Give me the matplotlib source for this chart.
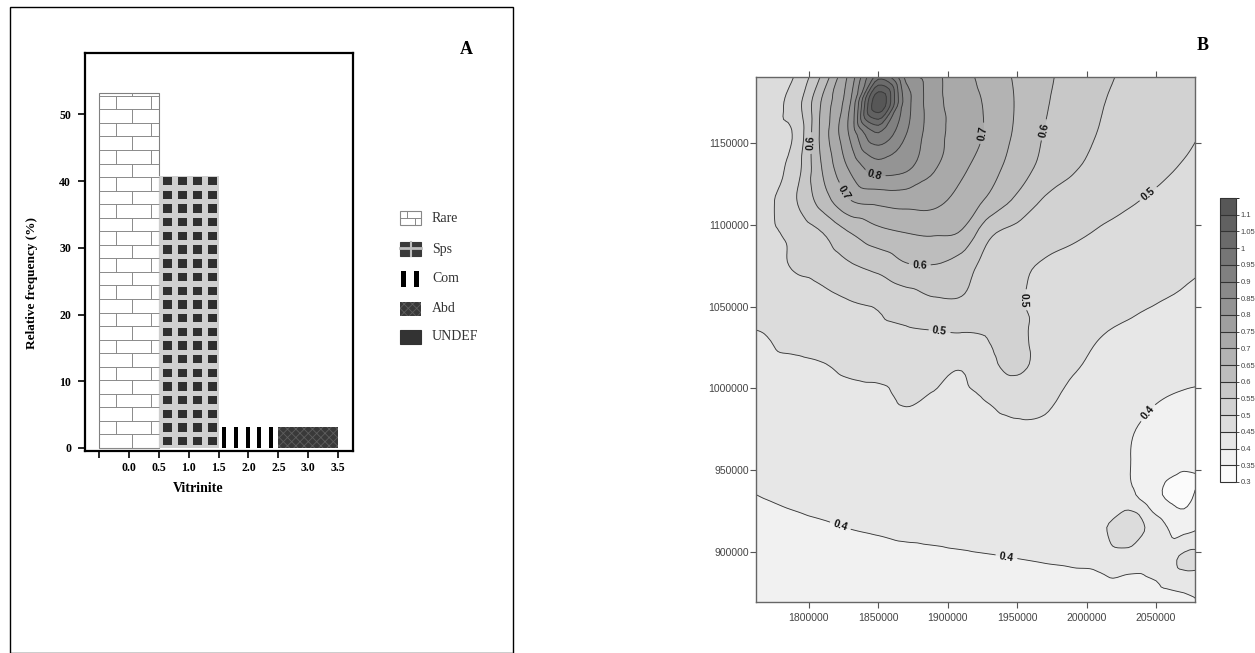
import numpy as np
import matplotlib
matplotlib.use("Agg")
import matplotlib.pyplot as plt
import matplotlib.tri as mtri
import matplotlib.ticker as mticker
from matplotlib.colors import ListedColormap, BoundaryNorm
from matplotlib.patches import Rectangle
from matplotlib.collections import LineCollection, PatchCollection
from matplotlib.cm import ScalarMappable

plt.rcParams['hatch.linewidth'] = 0.6

SERIF = ['Liberation Serif', 'DejaVu Serif']
SANS = ['Liberation Sans', 'DejaVu Sans']

# ---- panel A: vitrinite abundance classes ----
classes = ['Rare', 'Sps', 'Com', 'Abd', 'UNDEF']
bin_left = [-0.5, 0.5, 1.5, 2.5, 3.5]
rel_freq = [53.2, 40.7, 3.2, 3.2, 0.0]
a_xticks = [-0.5, 0.0, 0.5, 1.0, 1.5, 2.0, 2.5, 3.0, 3.5]
a_xticklabels = ['', '0.0', '0.5', '1.0', '1.5', '2.0', '2.5', '3.0', '3.5']
a_yticks = [0, 10, 20, 30, 40, 50]

# ---- panel B: gridded vitrinite map ----
easting = np.arange(1750000, 2090001, 20000)     # 18 columns
northing = np.arange(1195000, 854999, -20000)    # 18 rows, top to bottom
vr_grid = np.array([
    [0.46, 0.478, 0.497, 0.60, 0.76, 0.93, 0.81, 0.765, 0.715, 0.678, 0.64, 0.61, 0.585, 0.56, 0.545, 0.532, 0.522, 0.512],
    [0.46, 0.48, 0.525, 0.66, 0.80, 1.14, 0.875, 0.77, 0.725, 0.69, 0.645, 0.605, 0.58, 0.553, 0.54, 0.527, 0.515, 0.505],
    [0.46, 0.48, 0.508, 0.67, 0.81, 0.94, 0.85, 0.77, 0.727, 0.69, 0.64, 0.597, 0.57, 0.547, 0.535, 0.52, 0.507, 0.495],
    [0.46, 0.48, 0.525, 0.655, 0.76, 0.825, 0.81, 0.755, 0.71, 0.67, 0.625, 0.585, 0.555, 0.537, 0.52, 0.51, 0.497, 0.49],
    [0.46, 0.488, 0.545, 0.625, 0.70, 0.715, 0.72, 0.715, 0.68, 0.64, 0.59, 0.545, 0.53, 0.515, 0.505, 0.493, 0.48, 0.475],
    [0.46, 0.488, 0.515, 0.55, 0.60, 0.635, 0.65, 0.655, 0.645, 0.56, 0.535, 0.52, 0.508, 0.496, 0.485, 0.475, 0.465, 0.46],
    [0.457, 0.48, 0.505, 0.52, 0.545, 0.565, 0.595, 0.598, 0.575, 0.53, 0.51, 0.495, 0.485, 0.478, 0.47, 0.462, 0.455, 0.45],
    [0.455, 0.465, 0.478, 0.49, 0.502, 0.51, 0.53, 0.548, 0.548, 0.52, 0.505, 0.48, 0.47, 0.465, 0.46, 0.452, 0.447, 0.44],
    [0.448, 0.452, 0.47, 0.478, 0.485, 0.49, 0.495, 0.499, 0.502, 0.505, 0.515, 0.47, 0.46, 0.452, 0.445, 0.44, 0.435, 0.43],
    [0.435, 0.44, 0.443, 0.449, 0.46, 0.465, 0.47, 0.47, 0.455, 0.49, 0.515, 0.475, 0.455, 0.443, 0.435, 0.428, 0.42, 0.415],
    [0.425, 0.428, 0.43, 0.435, 0.44, 0.442, 0.455, 0.447, 0.44, 0.455, 0.465, 0.46, 0.44, 0.435, 0.425, 0.405, 0.395, 0.39],
    [0.42, 0.422, 0.425, 0.428, 0.432, 0.435, 0.44, 0.437, 0.435, 0.44, 0.445, 0.443, 0.43, 0.415, 0.405, 0.385, 0.375, 0.38],
    [0.41, 0.413, 0.418, 0.42, 0.425, 0.43, 0.432, 0.432, 0.432, 0.433, 0.435, 0.435, 0.425, 0.415, 0.402, 0.372, 0.36, 0.375],
    [0.397, 0.402, 0.407, 0.412, 0.417, 0.422, 0.425, 0.427, 0.428, 0.43, 0.432, 0.433, 0.43, 0.425, 0.41, 0.36, 0.33, 0.41],
    [0.385, 0.388, 0.392, 0.396, 0.401, 0.405, 0.41, 0.412, 0.415, 0.418, 0.42, 0.423, 0.428, 0.44, 0.49, 0.42, 0.385, 0.41],
    [0.37, 0.372, 0.375, 0.378, 0.381, 0.384, 0.387, 0.39, 0.393, 0.396, 0.399, 0.402, 0.405, 0.41, 0.42, 0.415, 0.46, 0.465],
    [0.355, 0.357, 0.36, 0.362, 0.365, 0.367, 0.37, 0.372, 0.375, 0.378, 0.38, 0.383, 0.385, 0.388, 0.38, 0.39, 0.40, 0.41],
    [0.352, 0.353, 0.355, 0.357, 0.358, 0.36, 0.362, 0.364, 0.366, 0.368, 0.37, 0.372, 0.374, 0.376, 0.378, 0.382, 0.39, 0.395],
])
levels = np.round(np.arange(0.30, 1.151, 0.05), 2)
labelled_levels = [0.4, 0.5, 0.6, 0.7, 0.8]
b_xticks = [1800000, 1850000, 1900000, 1950000, 2000000, 2050000]
b_yticks = [900000, 950000, 1000000, 1050000, 1100000, 1150000]

# where the contour labels sit (easting, northing)
label_pos = [(1800700, 1150000), (1847500, 1131700), (1828000, 1121300),
             (1923000, 1156100), (1969000, 1158000), (1879900, 1076700),
             (1894200, 1035700), (1950400, 1054000), (2043200, 1120000),
             (1822300, 915300), (1942500, 898200), (2043200, 985600)]

W, H = 1255, 653
fig = plt.figure(figsize=(W / 100, H / 100), dpi=100)
fig.patch.set_facecolor('white')

# frame around panel A
fig.add_artist(Rectangle((10 / W, 0), 503 / W, 1 - 7 / H, transform=fig.transFigure,
                         fill=False, ec='black', lw=1.0))


def decorate(ax, bar, kind):
    x0, w, h = bar.get_x(), bar.get_width(), bar.get_height()
    if kind == 'Rare':
        row, brick = 2.03, 0.59
        segs = []
        for k, yb in enumerate(np.arange(0, h, row)):
            yt = min(yb + row, h)
            segs.append([(x0, yb), (x0 + w, yb)])
            start = 0.55 if k % 2 == 0 else 0.28
            for xv in np.arange(start, w, brick):
                segs.append([(x0 + xv, yb), (x0 + xv, yt)])
        ax.add_collection(LineCollection(segs, colors='#8a8a8a', linewidths=0.7))
    elif kind == 'Sps':
        rects = []
        for yb in np.arange(0.4, h - 0.3, 2.05):
            for xv in np.arange(0.072, w, 0.2525):
                rects.append(Rectangle((x0 + xv, yb), 0.14, min(1.25, h - yb)))
        ax.add_collection(PatchCollection(rects, facecolor='#2f2f2f', edgecolor='none'))
    elif kind == 'Com':
        rects = [Rectangle((x0 + xv, 0), 0.067, h) for xv in np.arange(0.062, w, 0.196)]
        ax.add_collection(PatchCollection(rects, facecolor='black', edgecolor='none'))


bar_style = {
    'Rare': dict(facecolor='white', edgecolor='#808080', linewidth=0.8),
    'Sps': dict(facecolor='#cfcfcf', edgecolor='#cfcfcf', linewidth=0),
    'Com': dict(facecolor='white', edgecolor='white', linewidth=0),
    'Abd': dict(facecolor='#393939', edgecolor='#5e5e5e', hatch='xxxx', linewidth=0),
}

axa = fig.add_axes([85 / W, 1 - 451 / H, 268 / W, 398 / H])
for cls, left, h in zip(classes, bin_left, rel_freq):
    if h <= 0:
        continue
    bar = axa.bar(left, h, width=1.0, align='edge', **bar_style[cls])[0]
    decorate(axa, bar, cls)

axa.set_xlim(-0.736, 3.75)
axa.set_ylim(-0.45, 59.2)
axa.set_xticks(a_xticks)
axa.set_xticklabels(a_xticklabels)
axa.set_yticks(a_yticks)
for s in axa.spines.values():
    s.set_linewidth(1.6)
axa.tick_params(axis='both', direction='out', length=5, width=1.2, labelsize=8.5)
axa.tick_params(axis='x', pad=3)
axa.tick_params(axis='y', pad=5)
for lab in axa.get_xticklabels() + axa.get_yticklabels():
    lab.set_fontfamily(SERIF)
    lab.set_fontweight('bold')

fig.text(198 / W, 1 - 489 / H, 'Vitrinite', ha='center', va='center',
         family=SERIF, weight='bold', fontsize=10)
fig.text(32 / W, 1 - 283 / H, 'Relative frequency (%)', ha='center', va='center',
         rotation=90, family=SERIF, weight='bold', fontsize=9.5)
fig.text(466 / W, 1 - 50 / H, 'A', ha='center', va='center', family=SERIF,
         weight='bold', fontsize=13)

# legend drawn in a small pixel-unit axes
lax = fig.add_axes([395 / W, 1 - 352 / H, 125 / W, 147 / H])
lax.set_xlim(395, 520)
lax.set_ylim(352, 205)
lax.axis('off')
leg_y = [218, 249, 278, 309, 337]
sx, sw, sh = 400, 21, 14
for cls, yc in zip(classes, leg_y):
    top = yc - sh / 2
    if cls == 'Rare':
        lax.add_patch(Rectangle((sx, top), sw, sh, fc='white', ec='#888888', lw=0.8))
        lax.plot([sx, sx + sw], [yc, yc], color='#888888', lw=0.7)
        lax.plot([sx + 7, sx + 7], [top, yc], color='#888888', lw=0.7)
        lax.plot([sx + 15, sx + 15], [yc, top + sh], color='#888888', lw=0.7)
    elif cls == 'Sps':
        lax.add_patch(Rectangle((sx, top), sw, sh, fc='#3a3a3a', ec='#3a3a3a', lw=0.8))
        lax.plot([sx, sx + sw], [yc - 1, yc - 1], color='#bdbdbd', lw=2)
        lax.plot([sx + sw / 2, sx + sw / 2], [top, top + sh], color='#bdbdbd', lw=1.5)
    elif cls == 'Com':
        lax.add_patch(Rectangle((sx, top), sw, sh + 2, fc='white', ec='none'))
        lax.add_patch(Rectangle((sx + 1, top), 5, sh + 2, fc='black', ec='none'))
        lax.add_patch(Rectangle((sx + 14, top), 5, sh + 2, fc='black', ec='none'))
    elif cls == 'Abd':
        lax.add_patch(Rectangle((sx, top), sw, sh, fc='#393939', ec='#5e5e5e',
                                hatch='xxxx', lw=0))
    else:
        lax.add_patch(Rectangle((sx, top), sw, sh, fc='#333333', ec='#333333', lw=0.8))
    lax.text(sx + 32, yc, cls, ha='left', va='center', family=SERIF,
             fontsize=10, color='#333333')

# ---- panel B ----
nx, ny = len(easting), len(northing)
E, N = np.meshgrid(easting, northing)
tris = []
for j in range(ny - 1):
    for i in range(nx - 1):
        p = j * nx + i
        tris.append([p, p + 1, p + nx])
        tris.append([p + 1, p + nx + 1, p + nx])
tri = mtri.Triangulation(E.ravel(), N.ravel(), np.array(tris))
interp = mtri.CubicTriInterpolator(tri, vr_grid.ravel(), kind='geom')
tri_f, z_f = mtri.UniformTriRefiner(tri).refine_field(vr_grid.ravel(), interp, subdiv=3)
z_f = np.clip(z_f, levels[0] + 1e-4, levels[-1] - 1e-4)

ncol = len(levels) - 1
grays = np.linspace(0.985, 0.34, ncol)
cmap = ListedColormap([(g, g, g) for g in grays])
norm = BoundaryNorm(levels, ncol)

axb = fig.add_axes([756 / W, 1 - 602 / H, 439 / W, 525 / H])
axb.tricontourf(tri_f, z_f, levels=levels, cmap=cmap, norm=norm)
plain_levels = [lv for lv in levels[1:-1] if not np.isclose(lv, labelled_levels).any()]
axb.tricontour(tri_f, z_f, levels=plain_levels, colors='#383838', linewidths=0.65)
cs = axb.tricontour(tri_f, z_f, levels=labelled_levels, colors='#383838', linewidths=0.65)
clabs = axb.clabel(cs, manual=label_pos, fmt='%g', fontsize=7.5, inline=True,
                   inline_spacing=2, colors='#111111')
for t in clabs:
    t.set_fontfamily(SANS)
    t.set_fontweight('bold')

axb.set_xlim(1761900, 2078000)
axb.set_ylim(869400, 1190300)
axb.set_xticks(b_xticks)
axb.set_yticks(b_yticks)
axb.xaxis.set_major_formatter(mticker.FormatStrFormatter('%d'))
axb.yaxis.set_major_formatter(mticker.FormatStrFormatter('%d'))
axb.tick_params(direction='out', top=True, right=True, length=4, width=0.8,
                color='#555555', labelsize=7.5, labelcolor='#444444')
axb.tick_params(axis='x', pad=4)
axb.tick_params(axis='y', pad=1)
for lab in axb.get_xticklabels() + axb.get_yticklabels():
    lab.set_fontfamily(SANS)
for s in axb.spines.values():
    s.set_color('#666666')
    s.set_linewidth(1.0)

cax = fig.add_axes([1220 / W, 1 - 482 / H, 16 / W, 284 / H])
sm = ScalarMappable(norm=norm, cmap=cmap)
cb = fig.colorbar(sm, cax=cax, ticks=levels[:-1], drawedges=True)
cb.ax.yaxis.set_major_formatter(mticker.FormatStrFormatter('%g'))
cb.ax.tick_params(length=2.5, width=0.6, color='#333333', labelsize=5.5,
                  labelcolor='#444444', pad=1)
for lab in cb.ax.get_yticklabels():
    lab.set_fontfamily(SANS)
cb.outline.set_edgecolor('#333333')
cb.outline.set_linewidth(0.8)
cb.dividers.set_color('#333333')
cb.dividers.set_linewidth(0.8)

fig.text(1203 / W, 1 - 45 / H, 'B', ha='center', va='center', family=SERIF,
         weight='bold', fontsize=13)

fig.savefig('out.png', dpi=100)
